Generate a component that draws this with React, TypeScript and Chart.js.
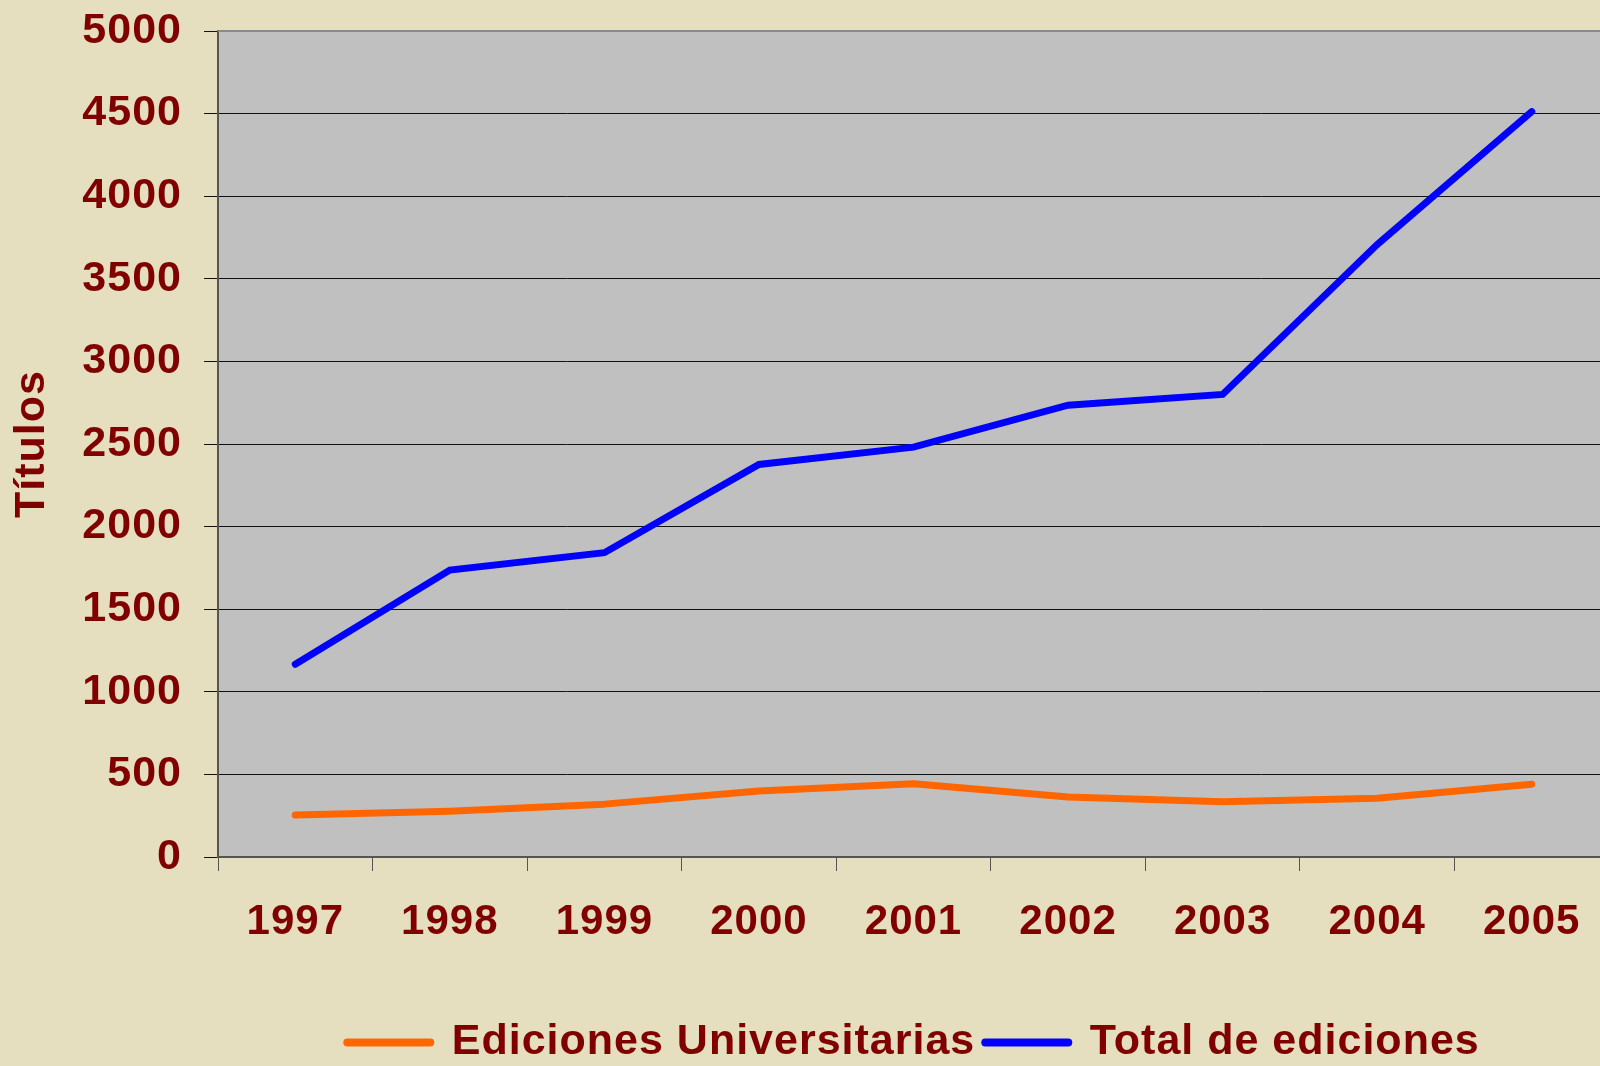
import React, { useEffect, useRef } from "react";
import { Chart, registerables } from "chart.js";

Chart.register(...registerables);

const years = ["1997", "1998", "1999", "2000", "2001", "2002", "2003", "2004", "2005"];
const edicionesUniversitarias = [254, 277, 320, 400, 443, 363, 334, 355, 441];
const totalEdiciones = [1167, 1737, 1842, 2376, 2481, 2735, 2800, 3707, 4512];
const seriesNames = ["Ediciones Universitarias", "Total de ediciones"];
const yMin = 0;
const yMax = 5000;
const yStep = 500;

const TEXT = "#800000";
const FONT = "'Liberation Sans', Arial, sans-serif";

const plotBg = {
  id: "plotBg",
  beforeUpdate(chart: any) {
    chart.ctx.letterSpacing = "1px";
  },
  beforeDraw(chart: any) {
    const { ctx, chartArea } = chart;
    ctx.letterSpacing = "1px";
    ctx.save();
    ctx.fillStyle = "#C0C0C0";
    ctx.fillRect(chartArea.left, chartArea.top, chartArea.right - chartArea.left, chartArea.bottom - chartArea.top);
    ctx.restore();
  },
  afterDatasetsDraw(chart: any) {
    const { ctx, chartArea } = chart;
    ctx.save();
    ctx.strokeStyle = "#8A8A8A";
    ctx.lineWidth = 2;
    ctx.beginPath();
    ctx.moveTo(chartArea.left, chartArea.top);
    ctx.lineTo(chartArea.right, chartArea.top);
    ctx.stroke();
    ctx.restore();
  },
};

export default function App() {
  const ref = useRef<HTMLCanvasElement>(null);
  useEffect(() => {
    if (!ref.current) return;
    const chart = new Chart(ref.current, {
      type: "line",
      data: {
        labels: years,
        datasets: [
          {
            label: seriesNames[0],
            data: edicionesUniversitarias,
            borderColor: "#FF6600",
            backgroundColor: "#FF6600",
            borderWidth: 7,
            pointRadius: 0,
            tension: 0,
            borderCapStyle: "round",
            borderJoinStyle: "round",
          },
          {
            label: seriesNames[1],
            data: totalEdiciones,
            borderColor: "#0000FF",
            backgroundColor: "#0000FF",
            borderWidth: 7,
            pointRadius: 0,
            tension: 0,
            borderCapStyle: "round",
            borderJoinStyle: "miter",
          },
        ],
      },
      options: {
        animation: false,
        responsive: false,
        layout: { padding: { top: 31, right: 1, bottom: 0, left: 0 } },
        plugins: {
          tooltip: { enabled: false },
          legend: {
            position: "bottom",
            fullSize: false,
            labels: {
              color: TEXT,
              font: { family: FONT, size: 43, weight: "bold" },
              usePointStyle: true,
              pointStyle: "line",
              pointStyleWidth: 83,
              padding: 10,
              generateLabels(chart: any) {
                const items = Chart.defaults.plugins.legend.labels.generateLabels(chart);
                return items.map((it: any) => ({ ...it, lineWidth: 8, lineCap: "round", fontColor: TEXT }));
              },
            },
          },
        },
        scales: {
          x: {
            offset: true,
            afterFit(scale: any) {
              scale.height = 154;
            },
            grid: {
              offset: true,
              drawOnChartArea: false,
              drawTicks: true,
              tickLength: 14,
              color: "#555555",
            },
            border: { color: "#555555", width: 2 },
            ticks: {
              color: TEXT,
              padding: 26,
              font: { family: FONT, size: 42, weight: "bold" },
              maxRotation: 0,
              autoSkip: false,
            },
          },
          y: {
            min: yMin,
            max: yMax,
            afterFit(scale: any) {
              scale.width = 218;
              scale.paddingTop = 0;
              scale.paddingBottom = 0;
            },
            grid: {
              color: "#111111",
              lineWidth: 1,
              tickLength: 14,
              drawTicks: true,
            },
            border: { color: "#555555", width: 2 },
            ticks: {
              stepSize: yStep,
              color: TEXT,
              padding: 22,
              font: { family: FONT, size: 43, weight: "bold" },
              callback: (v: any) => String(v),
            },
            title: {
              display: true,
              text: "Títulos",
              color: TEXT,
              padding: { top: 6, bottom: 0 },
              font: { family: FONT, size: 43, weight: "bold" },
            },
          },
        },
      },
      plugins: [plotBg],
    });
    return () => chart.destroy();
  }, []);

  return (
    <div
      style={{
        position: "absolute",
        left: 0,
        top: 0,
        width: 1600,
        height: 1066,
        overflow: "hidden",
        background: "#E6DFBF",
      }}
    >
      <canvas ref={ref} width={1610} height={1074} style={{ display: "block" }} />
    </div>
  );
}
